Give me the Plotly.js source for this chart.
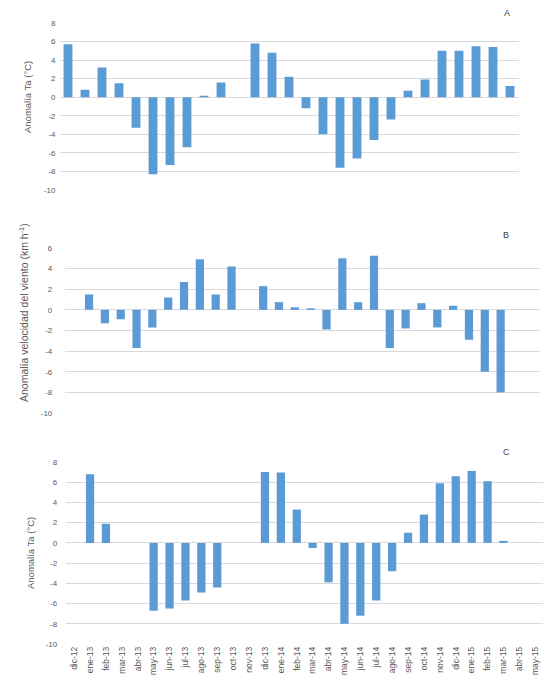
<!DOCTYPE html>
<html>
<head>
<meta charset="utf-8">
<script src="https://cdn.plot.ly/plotly-3.0.1.min.js"></script>
<style>html,body{margin:0;padding:0;background:#fff}#chart{width:545px;height:689px}</style>
</head>
<body>
<div id="chart"></div>
<script>
// Categories (monthly)
const months = ["dic-12","ene-13","feb-13","mar-13","abr-13","may-13","jun-13","jul-13","ago-13","sep-13","oct-13","nov-13","dic-13",
  "ene-14","feb-14","mar-14","abr-14","may-14","jun-14","jul-14","ago-14","sep-14","oct-14","nov-14","dic-14",
  "ene-15","feb-15","mar-15","abr-15","may-15"];

// Panel A: Anomalía Ta (°C)
const anomTaA = [null,5.7,0.8,3.2,1.5,-3.3,-8.3,-7.3,-5.4,0.15,1.6,null,5.8,4.8,2.2,-1.2,-4.0,-7.6,-6.6,-4.6,-2.4,0.7,1.9,5.0,5.0,5.5,5.4,1.2,null,null];
// Panel B: Anomalía velocidad del viento (km h-1)
const anomViento = [null,1.5,-1.3,-0.9,-3.7,-1.7,1.2,2.7,4.9,1.5,4.2,null,2.3,0.75,0.25,0.15,-1.9,5.0,0.75,5.25,-3.7,-1.8,0.65,-1.7,0.4,-2.9,-6.0,-8.0,null,null];
// Panel C: Anomalía Ta (°C)
const anomTaC = [null,6.8,1.9,null,null,-6.7,-6.5,-5.7,-4.9,-4.4,null,null,7.0,6.95,3.3,-0.5,-3.9,-8.0,-7.2,-5.7,-2.8,1.0,2.8,5.9,6.6,7.1,6.1,0.2,null,null];

const yTicksA = [-10,-8,-6,-4,-2,0,2,4,6,8];
const yTicksB = [-10,-8,-6,-4,-2,0,2,4,6];
const yTicksC = [-10,-8,-6,-4,-2,0,2,4,6,8];

const W = 545, H = 689;
const px = v => v / W;
const py = v => 1 - v / H;
const blue = '#5b9bd5';
const grey = '#595959';
const grid = '#d9d9d9';
const fontFam = 'Liberation Sans, Arial, sans-serif';

const traces = [
  {type:'bar', x: months, y: anomTaA, xaxis:'x', yaxis:'y', marker:{color:blue}, showlegend:false, hoverinfo:'skip'},
  {type:'bar', x: months, y: anomViento, xaxis:'x2', yaxis:'y2', marker:{color:blue}, showlegend:false, hoverinfo:'skip'},
  {type:'bar', x: months, y: anomTaC, xaxis:'x3', yaxis:'y3', marker:{color:blue}, showlegend:false, hoverinfo:'skip'}
];

function yax(dom, range, ticks, anchor, standoff){
  return {domain: dom, range: range, anchor: anchor, tickvals: ticks, ticktext: ticks.map(String),
    showgrid:true, gridcolor:grid, gridwidth:1, zeroline:true, zerolinecolor:grid, zerolinewidth:1,
    showline:false, ticks:'', tickfont:{size:8, color:grey, family:fontFam}, ticklabelstandoff: standoff,
    fixedrange:true, automargin:false};
}
function xax(dom, range, anchor, showLabels){
  return {domain: dom, range: range, anchor: anchor, type:'category', categoryorder:'array', categoryarray: months,
    tickmode:'array', tickvals: months, ticktext: months, showticklabels: showLabels,
    tickangle:-90, tickfont:{size:8.5, color:grey, family:fontFam},
    showgrid:false, zeroline:false, showline:false, ticks:'', fixedrange:true, automargin:false};
}

function note(text, x, y, size, angle, color){
  return {text:text, x:px(x), y:py(y), xref:'paper', yref:'paper', xanchor:'center', yanchor:'middle',
    showarrow:false, textangle: angle, font:{size:size, color:color, family:fontFam}};
}

const layout = {
  width: W, height: H,
  margin:{l:0,r:0,t:0,b:0},
  paper_bgcolor:'#fff', plot_bgcolor:'rgba(0,0,0,0)',
  bargap: 0.48,
  font:{family:fontFam, color:grey},
  xaxis: xax([px(59.5), px(518.5)], [0.5, 27.5], 'y', false),
  yaxis: yax([py(190), py(23)], [-10, 8], yTicksA, 'x', 3),
  xaxis2: xax([px(65.3), px(540.2)], [-0.5, 29.5], 'y2', false),
  yaxis2: yax([py(413), py(248)], [-10, 6], yTicksB, 'x2', 12),
  xaxis3: xax([px(66.2), px(543.2)], [-0.5, 29.5], 'y3', true),
  yaxis3: yax([py(644), py(462)], [-10, 8], yTicksC, 'x3', 8),
  annotations: [
    note('A', 507, 13, 9, 0, '#404040'),
    note('B', 506, 235, 9, 0, '#404040'),
    note('C', 506, 452, 9, 0, '#404040'),
    note('Anomalía Ta (°C)', 28, 97, 9.5, -90, grey),
    note('Anomalía velocidad del viento (km h<sup>-1</sup>)', 23, 313, 10.5, -90, grey),
    note('Anomalía Ta (°C)', 30, 553, 9.5, -90, grey)
  ]
};

Plotly.newPlot('chart', traces, layout, {staticPlot:true, displayModeBar:false});
</script>
</body>
</html>
